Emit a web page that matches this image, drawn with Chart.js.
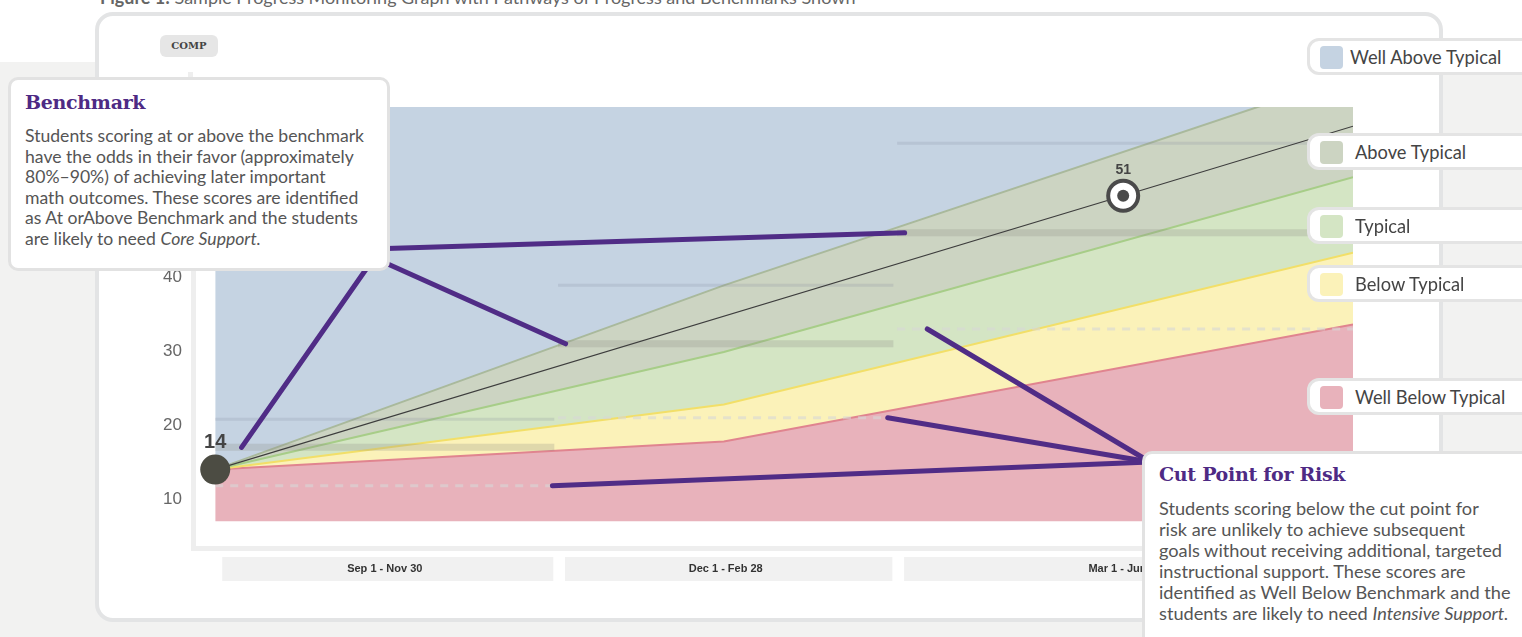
<!DOCTYPE html>
<html>
<head>
<meta charset="utf-8">
<script src="https://cdn.jsdelivr.net/npm/chart.js@4.4.0/dist/chart.umd.min.js"></script>
<style>
  html, body { margin: 0; padding: 0; }
  body { width: 1522px; height: 637px; overflow: hidden; position: relative; background: #f2f2f1; font-family: 'Lato', sans-serif; }
  .topband { position: absolute; left: 0; top: 0; width: 1522px; height: 62px; background: #fff; }
  .caption { position: absolute; left: 100px; top: -14px; font-size: 18px; color: #666; white-space: nowrap; }
  .card { position: absolute; left: 95px; top: 12px; width: 1348px; height: 610px; box-sizing: border-box; background: #fff; border: 4px solid #e3e4e5; border-radius: 18px; }
  .comp { position: absolute; left: 160px; top: 35px; width: 58px; height: 22px; background: #e6e6e6; border-radius: 6px; font: bold 10px 'DejaVu Serif', serif; color: #444; text-align: center; line-height: 22px; }
  .axisext { position: absolute; left: 188px; top: 72px; width: 5px; height: 36px; background: #eeeeee; }
  #wrap { position: absolute; left: 0; top: 0; width: 1522px; height: 637px; }
  .callout { position: absolute; box-sizing: border-box; background: #fff; border: 3px solid #e2e2e2; border-radius: 10px; }
  .ctitle { font: bold 19px 'DejaVu Serif', serif; color: #4e2a84; letter-spacing: -0.3px; }
  .cbody { color: #555; white-space: nowrap; }
  .pill { position: absolute; left: 1307px; width: 260px; height: 37px; box-sizing: border-box; background: #fff; border: 3px solid #e4e4e4; border-radius: 12px; }
  .sw { position: absolute; left: 10px; top: 5px; width: 23px; height: 23px; border-radius: 4px; }
  .pill span { position: absolute; top: 5px; font-size: 18.3px; color: #444; white-space: nowrap; }
</style>
</head>
<body>
<div class="topband"></div>
<div class="caption"><b>Figure 1:</b> Sample Progress Monitoring Graph with Pathways of Progress and Benchmarks Shown</div>
<div class="card"></div>
<div class="comp">COMP</div>
<div class="axisext"></div>
<div id="wrap"><canvas id="chart"></canvas></div>
<div id="legend"></div>

<div class="callout" style="left:8px; top:77px; width:382px; height:194px; padding:11px 0 0 14px;">
  <div class="ctitle">Benchmark</div>
  <div class="cbody" style="margin-top:13px; font-size:17.6px; line-height:20.5px;">Students scoring at or above the benchmark<br>have the odds in their favor (approximately<br>80%–90%) of achieving later important<br>math outcomes. These scores are identified<br>as At orAbove Benchmark and the students<br>are likely to need <i>Core Support.</i></div>
</div>

<div class="callout" style="left:1142px; top:451px; width:400px; height:200px; padding:9px 0 0 14px;">
  <div class="ctitle">Cut Point for Risk</div>
  <div class="cbody" style="margin-top:13px; font-size:18.2px; line-height:21.1px;">Students scoring below the cut point for<br>risk are unlikely to achieve subsequent<br>goals without receiving additional, targeted<br>instructional support. These scores are<br>identified as Well Below Benchmark and the<br>students are likely to need <i>Intensive Support.</i></div>
</div>

<script>
// periods on the x axis (days since Sep 1)
const periodLabels = ['Sep 1 - Nov 30', 'Dec 1 - Feb 28', 'Mar 1 - Jun 30'];
const periodStart = [0, 91, 181];
const periodEnd = [90, 180, 302];

// benchmark lines per period
const upperLevel = [20.8, 38.9, 58.1];
const benchmark = [17, 31, 46];
const cutPoint = [11.8, 21, 33];

// pathways of progress bands (top edge of each band)
const bandDays = [0, 135, 302];
const wellBelowTop = [14, 17.8, 33.6];
const belowTop = [14, 22.8, 43.3];
const typicalTop = [14, 29.9, 53.5];
const aboveTop = [14, 38.9, 67.3];
const bandFloor = 7;
const bandCeiling = 63;

// student scores and aim line
const scoreDays = [0];
const scores = [14];
const goalDay = 241;
const goalScore = 51;
const aimDays = [0, 241, 302];
const aimValues = [14, 51, 60.4];

// what the callout lines point at
const benchDays = [7, 93, 183];
const cutDays = [89.5, 178.5, 189];

const bandNames = ['Well Above Typical', 'Above Typical', 'Typical', 'Below Typical', 'Well Below Typical'];
const bandColors = ['#c5d3e2', '#ccd4c2', '#d4e5c4', '#fbf2b9', '#e8b2bb'];
const bandLines = [null, '#a9b99c', '#a7cd88', '#f2df68', '#e0848f'];

// legend pills
const pillTops = [38, 133, 207, 265, 378];
const pillText = [43, 48, 48, 48, 48];
let lg = '';
bandNames.forEach((n, i) => {
  lg += `<div class="pill" style="top:${pillTops[i]}px"><div class="sw" style="background:${bandColors[i]}"></div><span style="left:${pillText[i] - 3}px">${n}</span></div>`;
});
document.getElementById('legend').innerHTML = lg;

const pts = (xs, ys) => xs.map((x, i) => ({ x: x, y: ys[i] }));
const flat = v => [{ x: bandDays[0], y: v }, { x: bandDays[bandDays.length - 1], y: v }];
const steps = vals => {
  const out = [];
  vals.forEach((v, i) => {
    out.push({ x: periodStart[i], y: v });
    out.push({ x: periodEnd[i], y: v });
    out.push({ x: periodEnd[i] + 0.5, y: null });
  });
  return out;
};

function band(label, data, color, line, order) {
  return {
    label: label, data: data, fill: '-1', backgroundColor: color,
    borderColor: line || color, borderWidth: line ? 2 : 0,
    pointRadius: 0, tension: 0, order: order, clip: 0
  };
}

const tiles = {
  id: 'tiles',
  beforeDraw(chart) {
    const c = chart.ctx, x = chart.scales.x, b = chart.chartArea.bottom;
    c.save();
    c.fillStyle = '#f1f1f1';
    periodLabels.forEach((l, i) => {
      const x0 = x.getPixelForValue(periodStart[i]) + 7;
      const x1 = x.getPixelForValue(periodEnd[i]) - 1;
      c.fillRect(x0, b + 9, x1 - x0, 24);
    });
    c.restore();
  }
};

const extras = {
  id: 'extras',
  afterDraw(chart) {
    const c = chart.ctx, x = chart.scales.x, y = chart.scales.y;
    c.save();
    c.fillStyle = '#444';
    c.textAlign = 'center';
    c.textBaseline = 'alphabetic';
    c.font = 'bold 20px "Liberation Sans", Arial';
    c.fillText(String(scores[0]), x.getPixelForValue(scoreDays[0]), y.getPixelForValue(scores[0]) - 22);
    c.font = 'bold 14px "Liberation Sans", Arial';
    c.fillText(String(goalScore), x.getPixelForValue(goalDay), y.getPixelForValue(goalScore) - 22);

    // callout connector lines
    c.strokeStyle = '#502c86';
    c.lineWidth = 5;
    c.lineCap = 'round';
    const benchFrom = [[376, 255], [370, 256], [370, 249]];
    benchDays.forEach((d, i) => {
      c.beginPath();
      c.moveTo(benchFrom[i][0], benchFrom[i][1]);
      c.lineTo(x.getPixelForValue(d), y.getPixelForValue(benchmark[i]));
      c.stroke();
    });
    cutDays.forEach((d, i) => {
      c.beginPath();
      c.moveTo(1150, 462);
      c.lineTo(x.getPixelForValue(d), y.getPixelForValue(cutPoint[i]));
      c.stroke();
    });
    c.restore();
  }
};

new Chart(document.getElementById('chart'), {
  type: 'line',
  data: {
    datasets: [
      { label: 'floor', data: flat(bandFloor), borderWidth: 0, pointRadius: 0, fill: false, order: 20, clip: 0 },
      band(bandNames[4], pts(bandDays, wellBelowTop), bandColors[4], bandLines[4], 19),
      band(bandNames[3], pts(bandDays, belowTop), bandColors[3], bandLines[3], 18),
      band(bandNames[2], pts(bandDays, typicalTop), bandColors[2], bandLines[2], 17),
      band(bandNames[1], pts(bandDays, aboveTop), bandColors[1], bandLines[1], 16),
      band(bandNames[0], flat(bandCeiling), bandColors[0], null, 15),
      { label: 'upper', data: steps(upperLevel), borderColor: 'rgba(120,130,150,0.18)', borderWidth: 3, pointRadius: 0, fill: false, spanGaps: false, order: 6 },
      { label: 'benchmark', data: steps(benchmark), borderColor: 'rgba(140,140,130,0.25)', borderWidth: 7, pointRadius: 0, fill: false, spanGaps: false, order: 5 },
      { label: 'cut point', data: steps(cutPoint), borderColor: 'rgba(215,215,215,0.6)', borderWidth: 3, borderDash: [8, 7], pointRadius: 0, fill: false, spanGaps: false, order: 4 },
      { label: 'aim line', data: pts(aimDays, aimValues), borderColor: '#3d3d3d', borderWidth: 1.2, pointRadius: 0, fill: false, order: 3 },
      { label: 'scores', data: pts(scoreDays, scores), showLine: false, pointRadius: 15, pointBackgroundColor: '#4c4c43', pointBorderWidth: 0, order: 2 },
      { label: 'goal', data: [{ x: goalDay, y: goalScore }], showLine: false, pointRadius: 15, pointBackgroundColor: '#ffffff', pointBorderColor: '#4a4a4a', pointBorderWidth: 4, order: 1 },
      { label: 'goal dot', data: [{ x: goalDay, y: goalScore }], showLine: false, pointRadius: 6, pointBackgroundColor: '#4a4a4a', pointBorderWidth: 0, order: 0 }
    ]
  },
  options: {
    responsive: true,
    maintainAspectRatio: false,
    animation: false,
    layout: { padding: { left: 140, top: 107, right: 169, bottom: 49 } },
    plugins: {
      legend: { display: false },
      tooltip: { enabled: false },
      filler: { drawTime: 'beforeDatasetsDraw' }
    },
    scales: {
      x: {
        type: 'linear', min: -5.9, max: 302,
        grid: { display: false, drawTicks: false },
        border: { color: '#eeeeee', width: 5 },
        afterFit: s => { s.height = 40; },
        afterBuildTicks: s => { s.ticks = periodStart.map((v, i) => ({ value: (v + periodEnd[i]) / 2 })); },
        ticks: {
          autoSkip: false, maxRotation: 0, padding: 14,
          color: '#333', font: { family: '"Liberation Sans Narrow", "Liberation Sans", Arial', size: 11, weight: 'bold' },
          callback: (v, i) => periodLabels[i]
        }
      },
      y: {
        min: 3.4, max: 63,
        grid: { display: false, drawTicks: false },
        border: { color: '#eeeeee', width: 5 },
        afterFit: s => { s.width = 53; },
        ticks: {
          stepSize: 10, includeBounds: false, padding: 11,
          color: '#666', font: { family: '"Liberation Sans", Arial', size: 17 }
        }
      }
    }
  },
  plugins: [tiles, extras]
});
</script>
</body>
</html>
